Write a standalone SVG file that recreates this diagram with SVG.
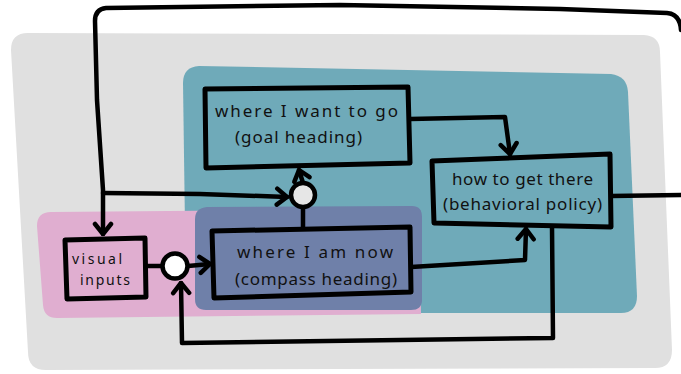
<svg xmlns="http://www.w3.org/2000/svg" width="681" height="374" viewBox="0 0 681 374">
<style>
.ln{fill:none;stroke:#000;stroke-width:4.5;stroke-linecap:round;stroke-linejoin:round}
.bx{stroke:#000;stroke-width:5;stroke-linejoin:round}
.t{font-family:"Noto Sans","DejaVu Sans",sans-serif;font-size:17px;fill:#111}
.s{font-size:14px}
</style>
<defs>
<marker id="arr" viewBox="-14 -12 16 24" markerUnits="userSpaceOnUse" markerWidth="16" markerHeight="24" refX="0" refY="0" orient="auto">
<path d="M-10,-8 L0,0 L-10,8" fill="none" stroke="#000" stroke-width="4.5" stroke-linecap="round" stroke-linejoin="round"/>
</marker>
</defs>
<rect width="681" height="374" fill="#fff"/>
<g id="regions">
<path id="grey" d="M28,33 L644,35 Q660,36 660,52 L672,350 Q672,368 655,368 L46,370 Q28,370 28,352 L11,50 Q11,33 28,33 Z" fill="#e0e0e0"/>
<path id="teal" d="M199,66 L611,74 Q627,76 628,92 L637,296 Q637,313 621,313 L200,313 L186,300 L183,83 Q183,67 199,66 Z" fill="#6faab9"/>
<path id="pink" d="M51,212 L300,210 L420,212 L421,314 L57,318 Q44,318 43,305 L37,226 Q37,212 51,212 Z" fill="#e0aed0"/>
<path id="blue" d="M207,207 L412,206 Q422,206 422,217 L422,300 Q422,310 411,310 L206,310 Q195,310 195,299 L195,219 Q195,208 207,207 Z" fill="#6f80a9"/>
</g>
<g id="connectors">
<path class="ln" d="M611,196 L681,195"/>
<path class="ln" d="M681,30 Q680,14 667,13 L560,9 L340,5 L106,8 Q95,9 95,21 L97,100 L103,190 L103,234" marker-end="url(#arr)"/>
<path class="ln" d="M103,193 L200,194 L287,197" marker-end="url(#arr)"/>
<path class="ln" d="M303,183 L299,170" marker-end="url(#arr)"/>
<path class="ln" d="M303,207 L303,229"/>
<path class="ln" d="M410,119 L505,117 L510,154" marker-end="url(#arr)"/>
<path class="ln" d="M145,266 L162,266"/>
<path class="ln" d="M188,266 L210,264" marker-end="url(#arr)"/>
<path class="ln" d="M411,267 L525,260 L526,229" marker-end="url(#arr)"/>
<path class="ln" d="M552,226 L553,338 L182,343 L181,283" marker-end="url(#arr)"/>
</g>
<g id="goal">
<path class="bx" fill="#6faab9" d="M205,89 L408,87 L410,163 L206,168 Z"/>
<text class="t" x="215" y="117" textLength="183" lengthAdjust="spacing">where I want to go</text>
<text class="t" x="235" y="143" textLength="127" lengthAdjust="spacing">(goal heading)</text>
</g>
<g id="policy">
<path class="bx" fill="#6faab9" d="M432,161 L610,154 L611,227 L434,223 Z"/>
<text class="t" x="452" y="185" textLength="141" lengthAdjust="spacing">how to get there</text>
<text class="t" x="443" y="210" textLength="159" lengthAdjust="spacing">(behavioral policy)</text>
</g>
<g id="compass">
<path class="bx" fill="#6f80a9" d="M212,231 L410,227 L411,292 L214,298 Z"/>
<text class="t" x="237" y="258" textLength="156" lengthAdjust="spacing">where I am now</text>
<text class="t" x="235" y="285" textLength="162" lengthAdjust="spacing">(compass heading)</text>
</g>
<g id="visual">
<path class="bx" fill="#e0aed0" d="M65,240 L145,238 L146,297 L67,299 Z"/>
<text class="t s" x="72" y="264" textLength="50" lengthAdjust="spacing">visual</text>
<text class="t s" x="80" y="285" textLength="50" lengthAdjust="spacing">inputs</text>
</g>
<g id="sum1">
<circle cx="175" cy="266" r="12.5" fill="#fff" stroke="#000" stroke-width="4.5"/>
</g>
<g id="sum2">
<circle cx="303" cy="195" r="12" fill="#e6e6e6" stroke="#000" stroke-width="4.5"/>
</g>
</svg>
